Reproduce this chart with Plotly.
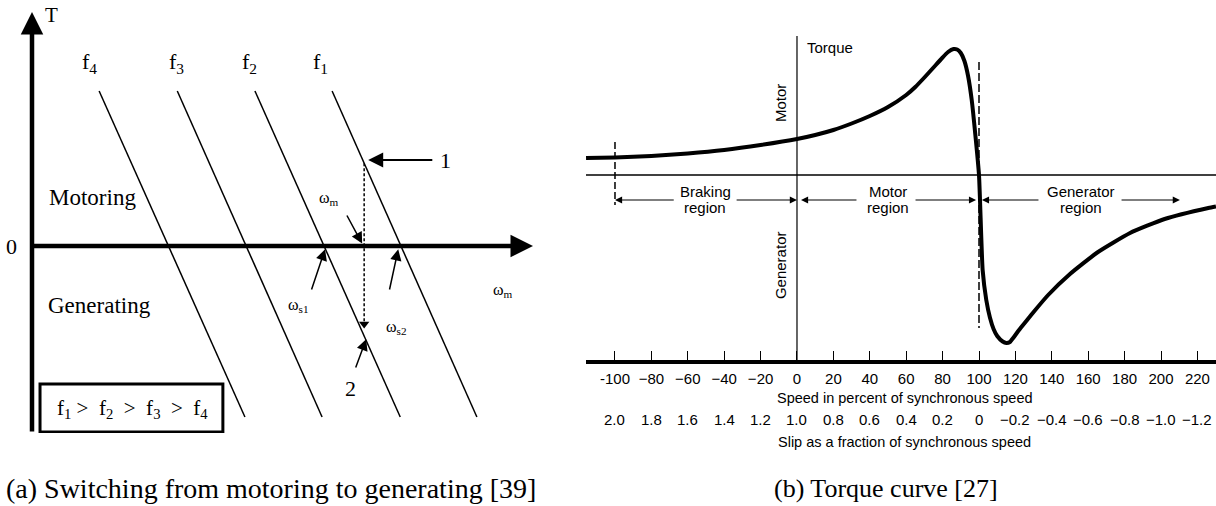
import plotly.graph_objects as go

W, H = 1216, 506

# ---------------- Panel (a): constant V/f torque-speed lines (schematic units) ----------------
freq_names = ["f<sub>1</sub>", "f<sub>2</sub>", "f<sub>3</sub>", "f<sub>4</sub>"]
line_top_speed = [5.99, 4.45, 2.90, 1.34]
line_bottom_speed = [8.88, 7.35, 5.79, 4.25]
line_top_torque = [3.875, 3.875, 3.875, 3.875]
line_bottom_torque = [-4.275, -4.275, -4.275, -4.275]
freq_label_speed = [5.75, 4.35, 2.89, 1.14]
freq_label_torque = [4.575, 4.575, 4.575, 4.575]
omega_m = 6.63
point1_torque = 2.07
point2_torque = -2.25
omega_s1 = 5.83
omega_s2 = 7.39
axis_speed_max = 10.0
axis_torque_min = -4.675
axis_torque_max = 5.85

# ---------------- Panel (b): induction machine torque curve ----------------
speed_pct = [-115.9, -100, -80, -60, -40, -20, 0, 10, 20, 30, 40, 50, 60, 65, 70, 75, 80, 83, 86,
             88, 90, 92, 94, 96, 98, 100, 102, 104, 106, 108, 110, 113, 115, 117, 119, 122, 126,
             130, 138, 150, 165, 183, 202, 226, 230.2]
torque_pu = [0.34, 0.35, 0.38, 0.43, 0.50, 0.60, 0.72, 0.80, 0.90, 1.03, 1.18, 1.36, 1.60, 1.76,
             1.95, 2.15, 2.35, 2.46, 2.52, 2.51, 2.44, 2.28, 1.98, 1.50, 0.80, 0.0, -1.90, -2.50,
             -2.85, -3.08, -3.22, -3.33, -3.36, -3.34, -3.25, -3.10, -2.92, -2.74, -2.40, -1.98,
             -1.55, -1.16, -0.88, -0.66, -0.63]
speed_ticks = [-100, -80, -60, -40, -20, 0, 20, 40, 60, 80, 100, 120, 140, 160, 180, 200, 220]
speed_tick_text = ["-100", "\u221280", "\u221260", "\u221240", "\u221220", "0", "20", "40", "60", "80",
                   "100", "120", "140", "160", "180", "200", "220"]
slip_text = ["2.0", "1.8", "1.6", "1.4", "1.2", "1.0", "0.8", "0.6", "0.4", "0.2", "0",
             "\u22120.2", "\u22120.4", "\u22120.6", "\u22120.8", "\u22121.0", "\u22121.2"]
region_names = ["Braking", "Motor", "Generator"]
region_centers = [-50.5, 50, 156]
speed_min, speed_max = -115.93, 230.22
torque_min, torque_max = -3.7, 2.78

SERIF = "Liberation Serif"
SANS = "Liberation Sans"

fig = go.Figure()

# --- panel (a) traces ---
for i in range(4):
    fig.add_trace(go.Scatter(x=[line_top_speed[i], line_bottom_speed[i]],
                             y=[line_top_torque[i], line_bottom_torque[i]],
                             mode="lines", line=dict(color="black", width=1.5),
                             xaxis="x", yaxis="y", hoverinfo="skip", showlegend=False))
fig.add_trace(go.Scatter(x=[omega_m, omega_m], y=[point1_torque, point2_torque + 0.3],
                         mode="lines", line=dict(color="black", width=1.5, dash="3px,2px"),
                         xaxis="x", yaxis="y", hoverinfo="skip", showlegend=False))
fig.add_trace(go.Scatter(x=[omega_m], y=[point2_torque + 0.3],
                         mode="markers", marker=dict(symbol="triangle-down", size=9, color="black"),
                         xaxis="x", yaxis="y", hoverinfo="skip", showlegend=False))

# --- panel (b) traces ---
fig.add_trace(go.Scatter(x=[speed_min, speed_max], y=[0, 0], mode="lines",
                         line=dict(color="black", width=1.3), xaxis="x2", yaxis="y2",
                         hoverinfo="skip", showlegend=False))
fig.add_trace(go.Scatter(x=[0, 0], y=[torque_min, torque_max], mode="lines",
                         line=dict(color="black", width=1.2), xaxis="x2", yaxis="y2",
                         hoverinfo="skip", showlegend=False))
fig.add_trace(go.Scatter(x=[-100, -100], y=[0.66, -0.6], mode="lines",
                         line=dict(color="black", width=1.5, dash="7px,3px"), xaxis="x2", yaxis="y2",
                         hoverinfo="skip", showlegend=False))
fig.add_trace(go.Scatter(x=[100, 100], y=[2.26, -3.06], mode="lines",
                         line=dict(color="black", width=1.5, dash="8px,3px"), xaxis="x2", yaxis="y2",
                         hoverinfo="skip", showlegend=False))
fig.add_trace(go.Scatter(x=speed_pct, y=torque_pu, mode="lines",
                         line=dict(color="black", width=4, shape="spline", smoothing=0.5),
                         xaxis="x2", yaxis="y2", hoverinfo="skip", showlegend=False))

ann = []


def arrow(xh, yh, xt, yt, xr, yr, width, size, head=2):
    ann.append(dict(x=xh, y=yh, ax=xt, ay=yt, xref=xr, yref=yr, axref=xr, ayref=yr,
                    text="", showarrow=True, arrowhead=head, arrowwidth=width,
                    arrowsize=size, arrowcolor="black", standoff=0, startstandoff=0))


def label(x, y, text, xr, yr, font, size, **kw):
    d = dict(x=x, y=y, xref=xr, yref=yr, text=text, showarrow=False,
             xanchor="center", yanchor="middle",
             font=dict(family=font, size=size, color="black"))
    d.update(kw)
    ann.append(d)


# axes arrows of panel (a)
arrow(0, axis_torque_max, 0, axis_torque_min, "x", "y", 4.5, 1.0)
arrow(axis_speed_max, 0, 0, 0, "x", "y", 4.5, 1.0)

# small arrows of panel (a)
arrow(omega_m - 0.04, 0.06, omega_m - 0.36, 0.8, "x", "y", 1.5, 1.5)
arrow(omega_m + 0.08, point1_torque + 0.08, 8.02, point1_torque + 0.08, "x", "y", 2, 1.5)
arrow(omega_s1 + 0.02, -0.08, omega_s1 - 0.26, -1.125, "x", "y", 1.5, 1.5)
arrow(omega_s2 - 0.08, -0.08, omega_s2 - 0.26, -1.125, "x", "y", 1.5, 1.5)
arrow(omega_m + 0.04, point2_torque - 0.08, omega_m - 0.18, -3.075, "x", "y", 1.5, 1.5)

# labels of panel (a)
for i in range(4):
    label(freq_label_speed[i], freq_label_torque[i], freq_names[i], "x", "y", SERIF, 22)
label(0.38, 5.775, "T", "x", "y", SERIF, 21)
label(-0.04, 0, "0", "x domain", "y", SERIF, 22)
label(1.2, 1.225, "Motoring", "x", "y", SERIF, 23)
label(1.357, -1.475, "Generating", "x", "y", SERIF, 23)
label(5.93, 1.2, "\u03c9<sub>m</sub>", "x", "y", SERIF, 16)
label(5.31, -1.475, "\u03c9<sub>s1</sub>", "x", "y", SERIF, 16)
label(7.27, -2.025, "\u03c9<sub>s2</sub>", "x", "y", SERIF, 16)
label(9.40, -1.1, "\u03c9<sub>m</sub>", "x", "y", SERIF, 16)
label(8.26, point1_torque + 0.08, "1", "x", "y", SERIF, 22)
label(6.35, -3.55, "2", "x", "y", SERIF, 22)
label(2.0, -4.075, "f<sub>1</sub> >\u00a0 f<sub>2</sub> \u00a0>\u00a0 f<sub>3</sub> \u00a0>\u00a0 f<sub>4</sub>",
      "x", "y", SERIF, 21)

# region arrows of panel (b)
region_arrows = [(-100, -66.9), (0, -34.0), (2.2, 33.5), (98.4, 64.3), (101.6, 133.5), (210.4, 177.5)]
for head_x, tail_x in region_arrows:
    arrow(head_x, -0.5, tail_x, -0.5, "x2", "y2", 1.1, 1.3)
for name, cx in zip(region_names, region_centers):
    label(cx, -0.32, name, "x2", "y2", SANS, 15)
    label(cx, -0.64, "region", "x2", "y2", SANS, 15)

label(4.4, 2.56, "Torque", "x2", "y2", SANS, 15, xanchor="left")
label(-9.3, 1.44, "Motor", "x2", "y2", SANS, 15, textangle=-90)
label(-9.3, -1.8, "Generator", "x2", "y2", SANS, 15, textangle=-90)

for sv, st in zip(speed_ticks, slip_text):
    label(sv, 1 - 419 / H, st, "x2", "paper", SANS, 15)
label(59.3, 1 - 398 / H, "Speed in percent of synchronous speed", "x2", "paper", SANS, 14.5)
label(59.3, 1 - 442 / H, "Slip as a fraction of synchronous speed", "x2", "paper", SANS, 14.5)

# captions (centred under each sub-figure)
label(271 / W, 1 - 488 / H, "(a) Switching from motoring to generating [39]", "paper", "paper", SERIF, 28)
label(772 / W, 1 - 488 / H, "(b) Torque curve [27]", "paper", "paper", SERIF, 26, xanchor="left")

# box shape in panel (a)
shapes = [dict(type="rect", xref="x", yref="y", x0=0.16, x1=3.81, y0=-4.65, y1=-3.45,
               line=dict(color="black", width=3), fillcolor="rgba(0,0,0,0)")]

fig.update_layout(
    width=W, height=H, margin=dict(l=0, r=0, t=0, b=0),
    paper_bgcolor="white", plot_bgcolor="rgba(0,0,0,0)", showlegend=False,
    xaxis=dict(domain=[32 / W, 533 / W], range=[0, axis_speed_max], visible=False, anchor="y"),
    yaxis=dict(domain=[1 - 433 / H, 1 - 12 / H], range=[axis_torque_min, axis_torque_max],
               visible=False, anchor="x"),
    xaxis2=dict(domain=[586 / W, 1.0], range=[speed_min, speed_max], anchor="y2",
                showline=True, linecolor="black", linewidth=3.5, ticks="inside", ticklen=9,
                tickwidth=1.3, tickcolor="black", tickvals=speed_ticks, ticktext=speed_tick_text,
                tickfont=dict(family=SANS, size=15, color="black"), showgrid=False, zeroline=False,
                ticklabelstandoff=2),
    yaxis2=dict(domain=[1 - 360 / H, 1 - 36 / H], range=[torque_min, torque_max], anchor="x2",
                visible=False),
    annotations=ann, shapes=shapes,
)

fig.write_html("out.html")
